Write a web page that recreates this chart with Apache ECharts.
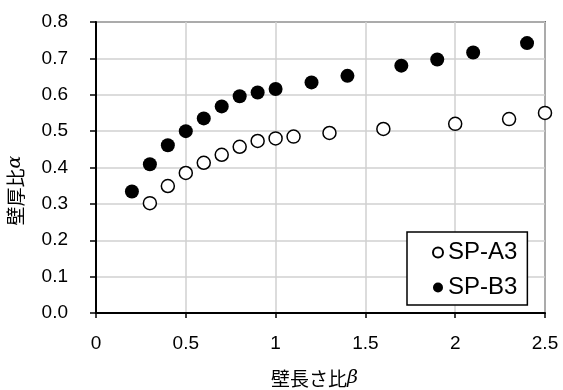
<!DOCTYPE html>
<html>
<head>
<meta charset="utf-8">
<script src="https://cdn.jsdelivr.net/npm/echarts@6/dist/echarts.min.js"></script>
<style>
  html, body { margin: 0; padding: 0; background: #fff; }
  #chart { width: 563px; height: 390px; }
</style>
</head>
<body>
<div id="chart"></div>
<script>
// Wall length ratio β (x) against wall thickness ratio α (y)
const betaA3  = [0.3, 0.4, 0.5, 0.6, 0.7, 0.8, 0.9, 1.0, 1.1, 1.3, 1.6, 2.0, 2.3, 2.5];
const alphaA3 = [0.302, 0.349, 0.385, 0.413, 0.435, 0.457, 0.473, 0.480, 0.485, 0.495, 0.506, 0.520, 0.533, 0.550];

const betaB3  = [0.2, 0.3, 0.4, 0.5, 0.6, 0.7, 0.8, 0.9, 1.0, 1.2, 1.4, 1.7, 1.9, 2.1, 2.4];
const alphaB3 = [0.334, 0.409, 0.461, 0.500, 0.535, 0.568, 0.596, 0.606, 0.616, 0.634, 0.652, 0.680, 0.697, 0.716, 0.742];

const seriesNames = ['SP-A3', 'SP-B3'];
const xTicks = [0, 0.5, 1, 1.5, 2, 2.5];
const yTicks = [0.0, 0.1, 0.2, 0.3, 0.4, 0.5, 0.6, 0.7, 0.8];

const latin = '"Liberation Sans", Arial, sans-serif';
const cjk = '"Noto Sans CJK JP", "Liberation Sans", sans-serif';

const zip = (xs, ys) => xs.map((x, i) => [x, ys[i]]);

const chart = echarts.init(document.getElementById('chart'), null, { renderer: 'canvas' });

chart.setOption({
  animation: false,
  backgroundColor: '#fff',
  grid: {
    left: 96, top: 22, right: 18, bottom: 77,
    containLabel: false,
    outerBoundsMode: 'none',
    show: true, borderColor: '#000', borderWidth: 1.5, backgroundColor: 'transparent'
  },
  xAxis: {
    type: 'value',
    min: xTicks[0], max: xTicks[xTicks.length - 1], interval: 0.5,
    axisLine: { show: true, onZero: false, lineStyle: { color: '#000', width: 2 } },
    axisTick: { show: true, inside: false, length: 5, lineStyle: { color: '#000', width: 1.5 } },
    splitLine: { show: true, lineStyle: { color: '#d0d0d0', width: 1.5 } },
    axisLabel: {
      margin: 21, color: '#000', fontSize: 19, fontFamily: latin,
      formatter: v => String(v)
    },
    name: '壁長さ比{i|β}',
    nameLocation: 'middle',
    nameGap: 56,
    nameTextStyle: {
      color: '#000', fontSize: 19, fontFamily: cjk, padding: [0, 12, 0, 0],
      rich: { i: { fontStyle: 'italic', fontSize: 19, fontFamily: '"DejaVu Serif", serif' } }
    }
  },
  yAxis: {
    type: 'value',
    min: yTicks[0], max: yTicks[yTicks.length - 1], interval: 0.1,
    axisLine: { show: true, onZero: false, lineStyle: { color: '#000', width: 2 } },
    axisTick: { show: true, inside: false, length: 6, lineStyle: { color: '#000', width: 1.5 } },
    splitLine: { show: true, lineStyle: { color: '#d0d0d0', width: 1.5 } },
    axisLabel: {
      margin: 28, color: '#000', fontSize: 19, fontFamily: latin,
      formatter: v => v.toFixed(1)
    },
    name: '壁厚比{i|α}',
    nameLocation: 'middle',
    nameRotate: 90,
    nameGap: 71,
    nameTextStyle: {
      color: '#000', fontSize: 19, fontFamily: cjk, padding: [0, 46, 0, 0],
      rich: { i: { fontStyle: 'italic', fontSize: 19, fontFamily: '"DejaVu Serif", serif' } }
    }
  },
  legend: {
    show: true,
    orient: 'vertical',
    left: 407, top: 232,
    data: seriesNames,
    backgroundColor: '#fff',
    borderColor: '#000', borderWidth: 1.5,
    padding: [8, 10, 5, 25],
    itemGap: 10,
    itemWidth: 10, itemHeight: 10,
    itemTextGap: 18,
    icon: 'circle',
    textStyle: { color: '#000', fontSize: 24, fontFamily: latin, lineHeight: 25 }
  },
  series: [
    {
      name: seriesNames[0],
      type: 'scatter',
      clip: false,
      symbol: 'circle',
      symbolSize: 13,
      itemStyle: { color: '#fff', borderColor: '#000', borderWidth: 1.5, opacity: 1 },
      data: zip(betaA3, alphaA3),
      z: 3
    },
    {
      name: seriesNames[1],
      type: 'scatter',
      clip: false,
      symbol: 'circle',
      symbolSize: 14,
      itemStyle: { color: '#000', borderColor: '#000', borderWidth: 0, opacity: 1 },
      data: zip(betaB3, alphaB3),
      z: 3
    }
  ]
});
</script>
</body>
</html>
